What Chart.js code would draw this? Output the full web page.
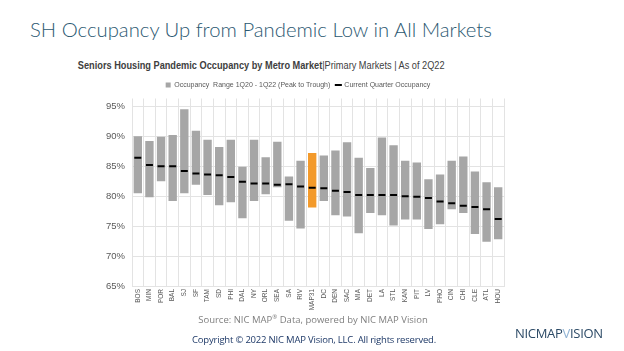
<!DOCTYPE html>
<html>
<head>
<meta charset="utf-8">
<script src="https://cdn.jsdelivr.net/npm/chart.js@4.4.1/dist/chart.umd.min.js"></script>
<style>
  body { margin: 0; width: 624px; height: 351px; background: #fff; overflow: hidden; position: relative; font-family: "Liberation Sans", Arial, sans-serif; }
  #titulo { position: absolute; left: 30px; top: 17px; font-family: Lato, "Open Sans", sans-serif; font-weight: 300; font-size: 20.3px; color: #2b5871; white-space: nowrap; }
  #subtitulo { position: absolute; left: 0; width: 522px; text-align: center; top: 55px; white-space: nowrap; }
  #subtitulo span { display: inline-block; transform: scaleX(0.8); font-family: "Liberation Sans", sans-serif; font-size: 11.5px; color: #404040; }
  #subtitulo b { font-weight: bold; }
  #lienzo { position: absolute; left: 0; top: 76px; width: 624px; height: 240px; }
  #fuente { position: absolute; left: 0; width: 626px; text-align: center; top: 313px; font-family: "Open Sans", sans-serif; font-size: 9.5px; color: #7f7f7f; white-space: nowrap; }
  #fuente sup { font-size: 6px; }
  #copy { position: absolute; left: 0; width: 628px; text-align: center; top: 333px; font-family: "Open Sans", sans-serif; font-size: 9.5px; color: #1f3a68; white-space: nowrap; letter-spacing: -0.2px; }
  #logo { position: absolute; left: 515px; top: 324px; font-family: "Open Sans", sans-serif; font-size: 13px; color: #2c4a66; white-space: nowrap; letter-spacing: -0.3px; }
  #logo span { color: #8fb2d3; }
</style>
</head>
<body>
<div id="titulo">SH Occupancy Up from Pandemic Low in All Markets</div>
<div id="subtitulo"><span><b>Seniors Housing Pandemic Occupancy by Metro Market</b>|Primary Markets | As of 2Q22</span></div>
<div id="lienzo"><canvas id="grafico" width="624" height="240"></canvas></div>
<div id="fuente">Source: NIC MAP<sup>®</sup> Data, powered by NIC MAP Vision</div>
<div id="copy">Copyright © 2022 NIC MAP Vision, LLC. All rights reserved.</div>
<div id="logo">NICMAP<span>V</span>ISION</div>
<script>
// mercados y valores (en %)
const mercados = ["BOS","MIN","POR","BAL","SJ","SF","TAM","SD","PHI","DAL","NY","ORL","SEA","SA","RIV","MAP31",
  "DC","DEN","SAC","MIA","DET","LA","STL","KAN","PIT","LV","PHO","CIN","CHI","CLE","ATL","HOU"];
const minimo = [80.5,79.8,82.5,79.2,80.5,81.9,80.2,78.5,79.0,76.3,79.2,80.3,81.5,75.9,74.6,78.1,
  79.2,76.8,76.6,73.8,77.2,76.8,75.1,76.1,76.1,74.5,75.3,77.8,77.2,73.7,72.4,72.8];
const maximo = [90.0,89.2,89.9,90.2,94.5,90.9,89.4,88.2,89.4,84.9,89.4,86.5,89.1,83.3,85.9,87.2,
  86.8,87.6,89.0,86.4,84.7,89.8,88.5,85.9,85.6,82.8,83.6,85.9,86.6,84.1,82.3,81.5];
const actual = [86.4,85.2,85.0,85.0,84.2,83.8,83.6,83.5,83.2,82.4,82.1,82.1,81.9,82.0,81.6,81.4,
  81.3,80.9,80.7,80.2,80.2,80.2,80.2,80.0,79.9,79.7,79.1,78.8,78.4,78.2,77.8,76.2];
const ticksY = [65,70,75,80,85,90,95];

function generarGrafico(){
    let rangos = [];
    let colores = [];
    for(let i=0;i<mercados.length;i++){
        rangos.push([minimo[i], maximo[i]]);
        if(mercados[i]=="MAP31"){
            colores.push('#f39a2b');
        }else{
            colores.push('#a6a6a6');
        }
    }

    const ctx = document.getElementById('grafico').getContext('2d');
    const grafico = new Chart(ctx, {
        data: {
            labels: mercados,
            datasets: [
                {
                    type: 'bar',
                    label: 'Occupancy  Range 1Q20 - 1Q22 (Peak to Trough)',
                    data: rangos,
                    backgroundColor: colores,
                    borderWidth: 0,
                    barPercentage: 0.72,
                    categoryPercentage: 1,
                    pointStyle: 'rect',
                    order: 2
                },{
                    type: 'line',
                    label: 'Current Quarter Occupancy',
                    data: actual,
                    showLine: false,
                    pointStyle: 'line',
                    pointRadius: 3.5,
                    pointHoverRadius: 3.5,
                    borderColor: '#000',
                    backgroundColor: '#000',
                    borderWidth: 2,
                    order: 1
                }
            ]
        },
        options: {
            responsive: false,
            animation: false,
            layout: {
                padding: { left: 92, right: 120, top: 0, bottom: 0 }
            },
            scales: {
                x: {
                    offset: true,
                    grid: { color: '#e3e3e3', drawTicks: false, offset: true },
                    border: { color: '#e3e3e3' },
                    ticks: {
                        autoSkip: false,
                        minRotation: 90,
                        maxRotation: 90,
                        padding: 3,
                        color: '#595959',
                        font: { size: 6.5, family: 'Liberation Sans' }
                    },
                    afterFit: function(escala){ escala.height = 30; }
                },
                y: {
                    min: 65,
                    max: 96.3,
                    grid: {
                        color: function(c){ return ticksY.includes(c.tick.value) ? '#e3e3e3' : 'rgba(0,0,0,0)'; },
                        drawTicks: false
                    },
                    border: { display: false },
                    afterBuildTicks: function(escala){
                        escala.ticks = ticksY.map(v => ({ value: v }));
                    },
                    ticks: {
                        padding: 7,
                        color: '#595959',
                        font: { size: 9.5, family: 'Liberation Sans' },
                        callback: function(v){ return v + '%'; }
                    },
                    afterFit: function(escala){ escala.width = 40; }
                }
            },
            plugins: {
                legend: {
                    display: true,
                    position: 'top',
                    labels: {
                        usePointStyle: true,
                        boxWidth: 5,
                        boxHeight: 5,
                        padding: 5.5,
                        color: '#595959',
                        font: { size: 7, family: 'Liberation Sans' },
                        sort: function(a, b){ return a.datasetIndex - b.datasetIndex; }
                    }
                },
                tooltip: { enabled: false }
            }
        }
    });
}

window.addEventListener("load", generarGrafico);
</script>
</body>
</html>
